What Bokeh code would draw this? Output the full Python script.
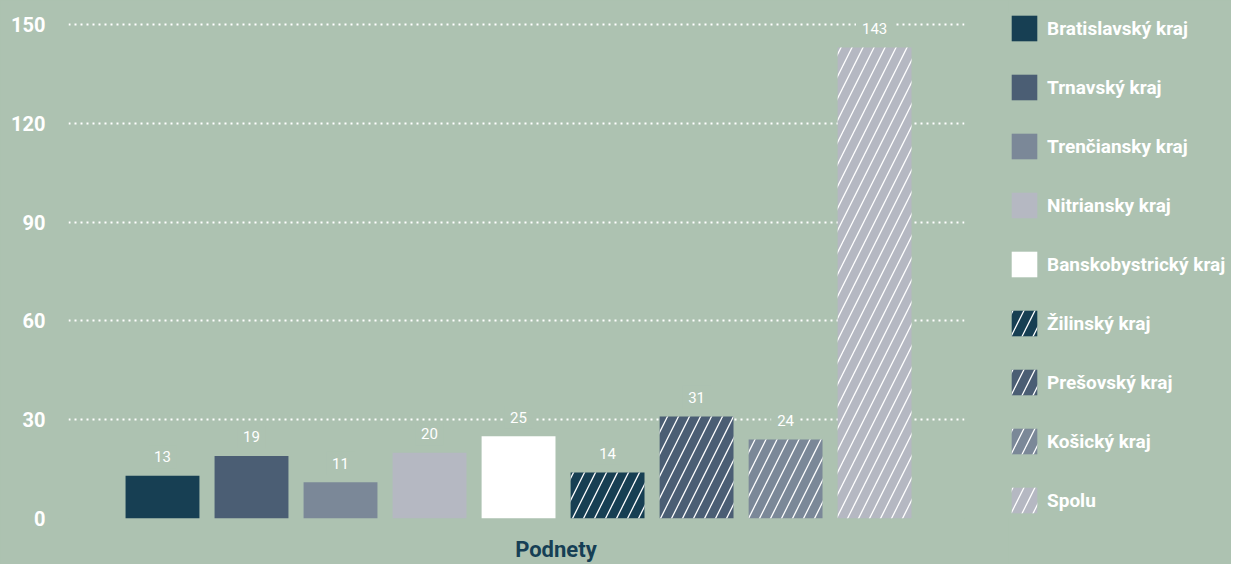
from bokeh.plotting import figure
from bokeh.layouts import row
from bokeh.models import (ColumnDataSource, Range1d, FixedTicker, Legend, LegendItem)
from bokeh.core.properties import value
from bokeh.embed import file_html
from bokeh.resources import INLINE

# ---- data ----
regions = ["Bratislavský kraj", "Trnavský kraj", "Trenčiansky kraj", "Nitriansky kraj",
           "Banskobystrický kraj", "Žilinský kraj", "Prešovský kraj", "Košický kraj", "Spolu"]
values = [13, 19, 11, 20, 25, 14, 31, 24, 143]
colors = ["#173f53", "#4b5e74", "#7b8898", "#b5b8c2", "#ffffff",
          "#173f53", "#4b5e74", "#7b8898", "#b5b8c2"]
hatches = [" ", " ", " ", " ", " ", "/", "/", "/", "/"]
y_ticks = [0, 30, 60, 90, 120, 150]
x_title = "Podnety"
x_title_pos = 4.42

BG = "#adc2b1"
FONT = "Roboto"

src = ColumnDataSource(dict(
    x=list(range(len(values))),
    v=values,
    label=[str(v) for v in values],
    color=colors,
    hatch=hatches,
    region=regions,
))

bar_style = dict(width=0.83, fill_color="color", line_color=None, hatch_pattern="hatch",
                 hatch_color="white", hatch_weight=1.3, hatch_scale=22)

# ---------------- main chart ----------------
p = figure(width=1008, height=564, output_backend="svg", toolbar_location=None,
           x_range=Range1d(-1.056, 9.01), y_range=Range1d(0, 153.64),
           min_border_left=68, min_border_right=44, min_border_top=12, min_border_bottom=46,
           background_fill_color=BG, border_fill_color=BG, outline_line_color=None)
p.styles = {"background-color": BG}

# x axis carries only the title text
xax = p.xaxis[0]
xax.ticker = FixedTicker(ticks=[x_title_pos])
xax.major_label_overrides = {x_title_pos: x_title}
xax.axis_line_color = None
xax.major_tick_line_color = None
xax.minor_tick_line_color = None
xax.major_tick_out = 0
xax.major_tick_in = 0
xax.minor_tick_out = 0
xax.major_label_standoff = 18
xax.major_label_text_color = "#163f55"
xax.major_label_text_font = FONT
xax.major_label_text_font_style = "bold"
xax.major_label_text_font_size = "22px"
p.xgrid.grid_line_color = None

yax = p.yaxis[0]
yax.ticker = FixedTicker(ticks=y_ticks)
yax.axis_line_color = None
yax.major_tick_line_color = None
yax.minor_tick_line_color = None
yax.major_tick_out = 0
yax.major_tick_in = 0
yax.minor_tick_out = 0
yax.major_label_text_color = "white"
yax.major_label_text_font = FONT
yax.major_label_text_font_style = "bold"
yax.major_label_text_font_size = "20px"
yax.major_label_standoff = 23

p.ygrid.ticker = FixedTicker(ticks=y_ticks)
p.ygrid.grid_line_color = "white"
p.ygrid.grid_line_width = 2
p.ygrid.grid_line_dash = "2 4"

p.vbar(x="x", top="v", source=src, **bar_style)

p.text(x="x", y="v", text="label", source=src, text_align="center",
       text_baseline="middle", y_offset=-19, text_color="white",
       text_font_size="15px", text_font=value(FONT),
       background_fill_color=BG, padding=6)

# ---------------- legend panel ----------------
pl = figure(width=223, height=564, output_backend="svg", toolbar_location=None,
            x_range=Range1d(-100, -99), y_range=Range1d(0, 1),
            x_axis_location=None, y_axis_location=None,
            min_border=0, min_border_top=12, min_border_bottom=46,
            background_fill_color=BG, border_fill_color=BG, outline_line_color=None)
pl.styles = {"background-color": BG}
pl.grid.visible = False
rl = pl.vbar(x="x", top="v", source=src, **bar_style)

items = [LegendItem(label=regions[i], renderers=[rl], index=i) for i in range(len(regions))]
legend = Legend(items=items, location="top_left", glyph_width=32, glyph_height=32,
                spacing=27, padding=0, margin=0, label_standoff=7,
                label_text_color="white", label_text_font=FONT,
                label_text_font_style="bold", label_text_font_size="19px",
                background_fill_alpha=0, border_line_color=None)
pl.add_layout(legend)

layout = row(p, pl, spacing=0)
layout.styles = {"background-color": BG}

open("out.html", "w").write(file_html(layout, INLINE))
